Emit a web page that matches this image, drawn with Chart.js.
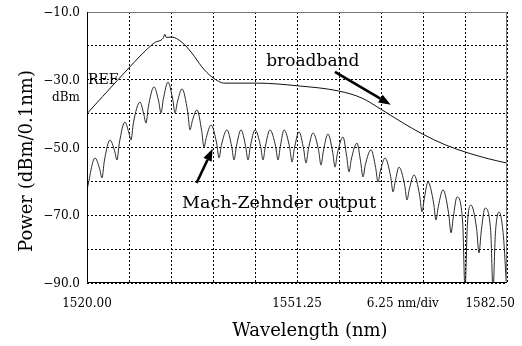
<!DOCTYPE html>
<html>
<head>
<meta charset="utf-8">
<script src="https://cdn.jsdelivr.net/npm/chart.js@4/dist/chart.umd.min.js"></script>
<style>html,body{margin:0;padding:0;background:#fff;}</style>
</head>
<body>
<canvas id="grafica" width="522" height="346"></canvas>
<script>
// broadband source spectrum
const bbWavelength = [1520.0, 1522.3, 1524.6, 1526.1, 1528.2, 1530.1, 1531.3, 1531.6, 1531.8, 1532.6, 1534.1,
  1535.6, 1537.1, 1538.6, 1540.5, 1545.4, 1551.4, 1557.4, 1560.9, 1563.9, 1566.9, 1569.9, 1573.3,
  1576.7, 1579.7, 1582.5];
const bbPower = [-40.0, -35.0, -30.0, -26.8, -22.4, -19.0, -17.8, -16.6, -17.5, -17.4, -18.9,
  -22.1, -26.2, -29.2, -31.0, -31.0, -31.8, -33.3, -35.4, -38.9, -42.6, -46.0, -49.2,
  -51.6, -53.3, -54.6];

// Mach-Zehnder output: peaks, troughs and the flanks next to each trough
const mzWavelength = [1520.00, 1521.19,
  1521.88, 1522.23, 1522.58, 1523.42,
  1524.11, 1524.46, 1524.81, 1525.65,
  1526.20, 1526.55, 1526.90, 1527.89,
  1528.43, 1528.78, 1529.13, 1529.97,
  1530.66, 1531.01, 1531.36, 1532.05,
  1532.75, 1533.10, 1533.45, 1534.14,
  1534.98, 1535.33, 1535.68, 1536.37,
  1537.06, 1537.41, 1537.76, 1538.45,
  1539.29, 1539.64, 1539.99, 1540.83,
  1541.53, 1541.88, 1542.23, 1542.92,
  1543.61, 1543.96, 1544.31, 1545.00,
  1545.84, 1546.19, 1546.54, 1547.23,
  1548.07, 1548.42, 1548.77, 1549.32,
  1550.16, 1550.51, 1550.86, 1551.55,
  1552.24, 1552.59, 1552.94, 1553.63,
  1554.47, 1554.82, 1555.17, 1555.86,
  1556.56, 1556.91, 1557.26, 1558.10,
  1558.64, 1558.99, 1559.34, 1560.18,
  1560.72, 1561.07, 1561.42, 1562.26,
  1562.95, 1563.30, 1563.65, 1564.35,
  1565.19, 1565.54, 1565.89, 1566.43,
  1567.27, 1567.62, 1567.97, 1568.66,
  1569.50, 1569.85, 1570.20, 1570.74,
  1571.58, 1571.93, 1572.28, 1572.98,
  1573.82, 1574.17, 1574.52, 1575.06,
  1575.90, 1576.25, 1576.60, 1577.14,
  1577.98, 1578.33, 1578.68, 1579.23,
  1580.07, 1580.42, 1580.77, 1581.31,
  1581.96, 1582.45];
const mzPower = [-62.5, -53.1,
  -56.3, -59.0, -54.0, -47.8,
  -51.0, -53.7, -48.7, -42.5,
  -45.4, -47.8, -42.8, -36.6,
  -40.0, -42.8, -38.0, -32.1,
  -36.3, -39.8, -35.7, -30.7,
  -35.7, -39.8, -36.6, -32.7,
  -39.4, -44.8, -42.1, -38.9,
  -45.0, -49.9, -47.0, -43.4,
  -48.7, -53.1, -49.4, -44.8,
  -49.7, -53.7, -49.7, -44.8,
  -49.7, -53.7, -49.7, -44.8,
  -49.7, -53.7, -49.7, -44.8,
  -49.7, -53.7, -49.7, -44.8,
  -50.0, -54.3, -50.3, -45.4,
  -50.5, -54.6, -50.6, -45.7,
  -50.9, -55.2, -51.1, -46.0,
  -51.4, -55.8, -51.8, -46.9,
  -52.6, -57.2, -53.4, -48.7,
  -54.2, -58.7, -55.1, -50.7,
  -55.9, -60.2, -57.0, -53.1,
  -58.6, -63.1, -59.8, -55.8,
  -61.1, -65.5, -62.2, -58.1,
  -64.1, -69.0, -65.0, -60.2,
  -66.4, -71.4, -67.4, -62.5,
  -69.5, -75.2, -70.4, -64.6,
  -72.0, -92.0, -73.0, -67.0,
  -74.0, -81.1, -74.5, -67.9,
  -74.5, -92.0, -75.5, -69.0,
  -76.0, -92.0];

const xGrid = [1520, 1526.25, 1532.5, 1538.75, 1545, 1551.25, 1557.5, 1563.75, 1570, 1576.25, 1582.5];
const yGrid = [-90, -80, -70, -60, -50, -40, -30, -20, -10];
const yTickValues = [-10, -30, -50, -70, -90];
const yTickLabels = ['−10.0', '−30.0', '−50.0', '−70.0', '−90.0'];
const xTickValues = [1520, 1551.25, 1567, 1582.5];
const xTickLabels = ['1520.00', '1551.25', '6.25 nm/div', '1582.50'];

const serif = '"DejaVu Serif", serif';

function arrow(ctx, x1, y1, x2, y2) {
  const a = Math.atan2(y2 - y1, x2 - x1);
  const head = 12, half = 4.5;
  const c = Math.cos(a), s = Math.sin(a);
  ctx.lineWidth = 2.6;
  ctx.beginPath();
  ctx.moveTo(x1, y1);
  ctx.lineTo(x2 - head * c, y2 - head * s);
  ctx.stroke();
  ctx.beginPath();
  ctx.moveTo(x2, y2);
  ctx.lineTo(x2 - head * c + half * s, y2 - head * s - half * c);
  ctx.lineTo(x2 - head * c - half * s, y2 - head * s + half * c);
  ctx.closePath();
  ctx.fill();
}

const decor = {
  id: 'decor',
  afterDraw(chart) {
    const { ctx, chartArea: a, scales: { x, y } } = chart;
    ctx.save();
    // frame
    ctx.lineWidth = 1;
    ctx.strokeStyle = '#777';
    ctx.beginPath();
    ctx.moveTo(a.left, a.top + 0.5); ctx.lineTo(a.right - 0.5, a.top + 0.5); ctx.lineTo(a.right - 0.5, a.bottom);
    ctx.stroke();
    ctx.strokeStyle = '#000';
    ctx.beginPath();
    ctx.moveTo(a.left + 0.5, a.top); ctx.lineTo(a.left + 0.5, a.bottom - 0.5); ctx.lineTo(a.right, a.bottom - 0.5);
    ctx.stroke();

    ctx.fillStyle = '#000';
    ctx.strokeStyle = '#000';
    // y tick labels
    ctx.font = '12px ' + serif;
    ctx.textAlign = 'right';
    ctx.textBaseline = 'middle';
    yTickValues.forEach((v, i) => ctx.fillText(yTickLabels[i], 80, y.getPixelForValue(v) + 1));
    ctx.fillText('dBm', 80, y.getPixelForValue(-30) + 18);
    ctx.textAlign = 'left';
    ctx.font = '14px ' + serif;
    ctx.fillText('REF', a.left + 1, y.getPixelForValue(-30) + 1);

    // x tick labels
    ctx.font = '12px ' + serif;
    ctx.textBaseline = 'middle';
    xTickValues.forEach((v, i) => {
      let px = x.getPixelForValue(v);
      if (i === xTickValues.length - 1) { ctx.textAlign = 'right'; px += 8; }
      else ctx.textAlign = 'center';
      ctx.fillText(xTickLabels[i], px, a.bottom + 21);
    });

    // axis titles
    ctx.font = '18px ' + serif;
    ctx.textAlign = 'center';
    ctx.textBaseline = 'alphabetic';
    ctx.fillText('Wavelength (nm)', 310, 336);
    ctx.save();
    ctx.translate(32, 161);
    ctx.rotate(-Math.PI / 2);
    ctx.fillText('Power (dBm/0.1nm)', 0, 0);
    ctx.restore();

    // annotations
    ctx.font = '17px ' + serif;
    ctx.textAlign = 'center';
    ctx.fillText('broadband', x.getPixelForValue(1553.6), y.getPixelForValue(-26.0));
    ctx.font = '17.5px ' + serif;
    ctx.fillText('Mach-Zehnder output', x.getPixelForValue(1548.6), y.getPixelForValue(-67.9));
    arrow(ctx, x.getPixelForValue(1556.9), y.getPixelForValue(-27.7), x.getPixelForValue(1565.2), y.getPixelForValue(-37.4));
    arrow(ctx, x.getPixelForValue(1536.3), y.getPixelForValue(-60.5), x.getPixelForValue(1538.7), y.getPixelForValue(-50.4));
    ctx.restore();
  }
};

const gridOpts = { color: '#000', lineWidth: 1, drawTicks: false };
const borderOpts = { display: false, dash: [2, 2] };

new Chart(document.getElementById('grafica').getContext('2d'), {
  type: 'line',
  data: {
    datasets: [
      {
        label: 'broadband',
        data: bbWavelength.map((w, i) => ({ x: w, y: bbPower[i] })),
        borderColor: '#111',
        borderWidth: 1,
        pointRadius: 0,
        cubicInterpolationMode: 'monotone'
      },
      {
        label: 'Mach-Zehnder output',
        data: mzWavelength.map((w, i) => ({ x: w, y: mzPower[i] })),
        borderColor: '#2a2a2a',
        borderWidth: 1,
        pointRadius: 0,
        cubicInterpolationMode: 'monotone'
      }
    ]
  },
  options: {
    responsive: false,
    animation: false,
    layout: { padding: { top: 12, right: 15, left: 0, bottom: 0 } },
    plugins: { legend: { display: false }, tooltip: { enabled: false } },
    scales: {
      x: {
        type: 'linear', min: 1520, max: 1582.5,
        ticks: { display: false },
        grid: gridOpts, border: borderOpts,
        afterBuildTicks: s => { s.ticks = xGrid.map(v => ({ value: v })); },
        afterFit: s => { s.height = 63; }
      },
      y: {
        type: 'linear', min: -90, max: -10,
        ticks: { display: false },
        grid: gridOpts, border: borderOpts,
        afterBuildTicks: s => { s.ticks = yGrid.map(v => ({ value: v })); },
        afterFit: s => { s.width = 87; }
      }
    }
  },
  plugins: [decor]
});
</script>
</body>
</html>
